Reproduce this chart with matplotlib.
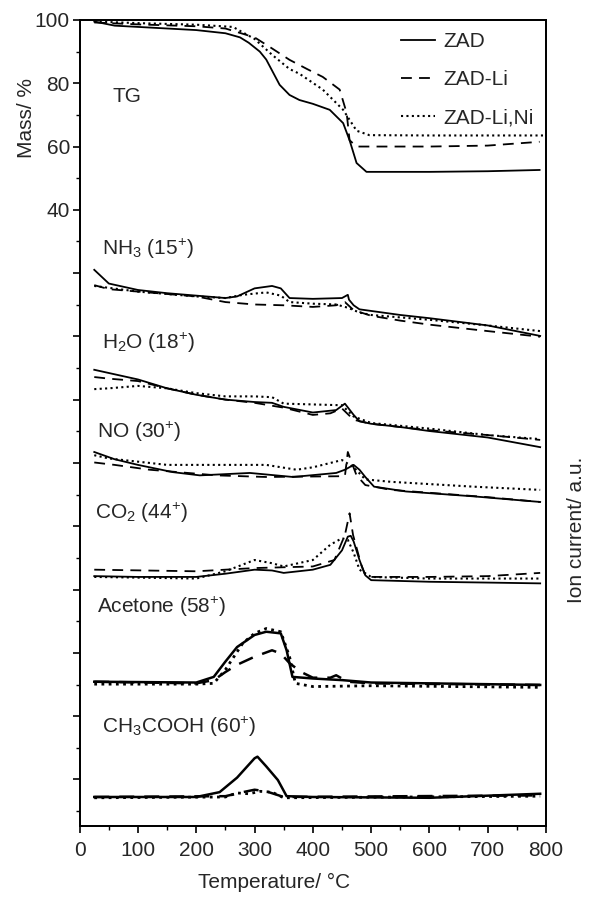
import numpy as np
import matplotlib
matplotlib.use('Agg')
import matplotlib.pyplot as plt
from matplotlib.ticker import MultipleLocator, FuncFormatter

plt.rcParams['font.family'] = ['Liberation Sans', 'DejaVu Sans']
plt.rcParams['mathtext.fontset'] = 'custom'
plt.rcParams['mathtext.rm'] = 'Liberation Sans'
plt.rcParams['mathtext.it'] = 'Liberation Sans:italic'
plt.rcParams['mathtext.bf'] = 'Liberation Sans:bold'

#TG data (mass %)
tg_zad_T = [25, 60, 120, 200, 250, 275, 290, 309, 320, 343, 360, 377, 400, 429, 452, 463, 475, 492, 600, 700, 789]
tg_zad_m = [99.5, 98.2, 97.6, 96.8, 95.8, 94.5, 92.8, 90.0, 87.5, 79.5, 76.3, 74.7, 73.5, 71.6, 67.4, 62.0, 54.8, 52.0, 52.0, 52.2, 52.6]
tg_li_T = [25, 100, 200, 250, 300, 330, 360, 390, 417, 446, 458, 463, 475, 600, 700, 789]
tg_li_m = [99.2, 98.6, 98.0, 97.3, 94.5, 91.0, 87.4, 84.5, 82.0, 78.0, 70.6, 62.0, 60.0, 60.0, 60.3, 61.5]
tg_lini_T = [25, 100, 200, 263, 300, 330, 360, 377, 417, 452, 475, 497, 600, 700, 800]
tg_lini_m = [99.5, 99.0, 98.5, 97.8, 94.0, 89.0, 84.5, 83.0, 78.0, 71.6, 65.0, 63.6, 63.5, 63.5, 63.5]

#ion current data (a.u., stacked traces)
nh3_zad_T = [25, 50, 100, 150, 200, 250, 270, 300, 330, 345, 360, 400, 450, 460, 462, 470, 480, 500, 550, 600, 700, 790]
nh3_zad = [69.0, 67.3, 66.5, 66.1, 65.8, 65.5, 65.7, 66.7, 67.0, 66.7, 65.5, 65.4, 65.5, 65.9, 65.3, 64.6, 64.1, 63.9, 63.4, 63.0, 62.1, 60.8]
nh3_li_T = [25, 50, 100, 150, 200, 250, 300, 350, 400, 440, 455, 470, 500, 550, 600, 700, 790]
nh3_li = [67.1, 66.6, 66.3, 66.0, 65.7, 65.0, 64.7, 64.6, 64.4, 64.6, 65.0, 64.0, 63.3, 62.7, 62.2, 61.4, 60.7]
nh3_lini_T = [25, 100, 200, 250, 280, 320, 345, 360, 400, 440, 460, 480, 500, 550, 600, 700, 790]
nh3_lini = [67.0, 66.3, 65.7, 65.5, 65.9, 66.2, 65.8, 65.0, 64.8, 64.7, 64.3, 63.7, 63.4, 63.1, 62.8, 62.1, 61.4]

h2o_zad_T = [25, 50, 100, 150, 200, 250, 300, 330, 350, 400, 440, 455, 470, 480, 500, 550, 600, 700, 790]
h2o_zad = [56.6, 56.2, 55.4, 54.3, 53.5, 52.9, 52.6, 52.5, 52.0, 51.3, 51.6, 52.4, 51.0, 50.2, 49.9, 49.5, 49.0, 48.2, 47.0]
h2o_li_T = [25, 50, 100, 150, 200, 250, 300, 350, 400, 430, 450, 470, 500, 600, 700, 790]
h2o_li = [55.7, 55.5, 55.2, 54.3, 53.5, 52.9, 52.5, 51.9, 51.0, 51.2, 51.8, 50.4, 49.9, 49.1, 48.5, 47.9]
h2o_lini_T = [25, 50, 100, 150, 200, 250, 300, 330, 350, 400, 450, 470, 500, 600, 700, 790]
h2o_lini = [54.2, 54.3, 54.6, 54.3, 53.7, 53.3, 53.3, 53.2, 52.4, 52.3, 52.2, 50.8, 50.0, 49.3, 48.5, 48.0]

no_zad_T = [25, 60, 100, 160, 206, 292, 366, 440, 455, 470, 480, 490, 505, 560, 675, 790]
no_zad = [46.4, 45.5, 44.8, 43.9, 43.5, 43.8, 43.3, 43.8, 44.2, 44.8, 44.2, 43.3, 42.1, 41.5, 40.9, 40.2]
no_li_T = [25, 60, 120, 235, 320, 455, 460, 465, 475, 490, 534, 700, 790]
no_li = [45.1, 44.8, 44.2, 43.5, 43.3, 43.4, 46.4, 45.4, 43.5, 42.3, 41.7, 40.8, 40.2]
no_lini_T = [25, 50, 150, 320, 372, 400, 450, 470, 490, 534, 675, 790]
no_lini = [46.0, 45.6, 44.8, 44.8, 44.2, 44.5, 45.4, 44.5, 43.0, 42.7, 42.1, 41.7]

co2_zad_T = [25, 100, 200, 250, 300, 330, 350, 400, 430, 450, 460, 465, 470, 480, 490, 500, 600, 700, 790]
co2_zad = [31.0, 30.9, 30.9, 31.3, 31.8, 31.7, 31.4, 31.8, 32.4, 34.2, 35.9, 36.0, 35.3, 33.0, 31.1, 30.5, 30.3, 30.2, 30.1]
co2_li_T = [25, 200, 300, 400, 437, 455, 463, 469, 483, 490, 500, 600, 700, 790]
co2_li = [31.8, 31.6, 32.0, 32.2, 33.0, 36.1, 38.8, 36.1, 32.4, 31.1, 30.9, 30.9, 31.0, 31.4]
co2_lini_T = [25, 200, 250, 300, 330, 350, 400, 430, 450, 460, 470, 480, 500, 600, 790]
co2_lini = [30.9, 30.7, 31.6, 33.0, 32.6, 32.2, 33.0, 34.9, 35.7, 35.5, 33.9, 31.8, 30.9, 30.7, 30.7]

ace_zad_T = [25, 200, 230, 250, 270, 300, 320, 345, 355, 365, 400, 450, 500, 790]
ace_zad = [17.9, 17.8, 18.5, 20.4, 22.2, 23.7, 24.1, 23.9, 21.8, 18.5, 18.3, 18.1, 17.8, 17.5]
ace_li_T = [25, 200, 230, 250, 270, 300, 330, 345, 360, 380, 400, 430, 440, 460, 500, 790]
ace_li = [17.9, 17.7, 18.1, 19.1, 20.0, 21.0, 21.8, 21.4, 20.2, 19.1, 18.4, 18.4, 18.7, 17.9, 17.7, 17.5]
ace_lini_T = [25, 200, 230, 250, 280, 300, 320, 345, 360, 370, 400, 500, 790]
ace_lini = [17.6, 17.6, 17.7, 19.4, 22.7, 23.9, 24.5, 24.1, 21.0, 17.7, 17.3, 17.4, 17.2]

acid_zad_T = [25, 200, 240, 270, 290, 300, 305, 320, 340, 355, 400, 600, 790]
acid_zad = [3.6, 3.6, 4.2, 6.0, 7.6, 8.4, 8.6, 7.4, 5.7, 3.7, 3.6, 3.5, 4.0]
acid_li_T = [25, 250, 280, 300, 320, 350, 790]
acid_li = [3.6, 3.7, 4.2, 4.5, 4.3, 3.6, 3.8]
acid_lini_T = [25, 250, 270, 290, 310, 330, 350, 790]
acid_lini = [3.5, 3.6, 4.1, 4.0, 4.3, 4.2, 3.5, 3.7]

samples = ['ZAD', 'ZAD-Li', 'ZAD-Li,Ni']
gas_labels = [r'NH$_3$ (15$^{+}$)', r'H$_2$O (18$^{+}$)', r'NO (30$^{+}$)',
              r'CO$_2$ (44$^{+}$)', r'Acetone (58$^{+}$)', r'CH$_3$COOH (60$^{+}$)']

txt = '#262626'
fs = 15
styles = [dict(ls='-', lw=1.3), dict(ls=(0, (6, 4)), lw=1.3), dict(ls=(0, (1, 1.6)), lw=1.5)]

fig = plt.figure(figsize=(5.89, 8.99), dpi=100)
ax = fig.add_axes([0.1353, 0.0812, 0.7917, 0.8966])
ax2 = ax.twinx()

# TG
for (T, m), st, lab in zip([(tg_zad_T, tg_zad_m), (tg_li_T, tg_li_m), (tg_lini_T, tg_lini_m)], styles, samples):
    ax.plot(T, m, color='k', label=lab, **st)

# MS traces
ion = [
    [(nh3_zad_T, nh3_zad), (nh3_li_T, nh3_li), (nh3_lini_T, nh3_lini)],
    [(h2o_zad_T, h2o_zad), (h2o_li_T, h2o_li), (h2o_lini_T, h2o_lini)],
    [(no_zad_T, no_zad), (no_li_T, no_li), (no_lini_T, no_lini)],
    [(co2_zad_T, co2_zad), (co2_li_T, co2_li), (co2_lini_T, co2_lini)],
    [(ace_zad_T, ace_zad), (ace_li_T, ace_li), (ace_lini_T, ace_lini)],
    [(acid_zad_T, acid_zad), (acid_li_T, acid_li), (acid_lini_T, acid_lini)],
]
for i, gas in enumerate(ion):
    for (T, s), st in zip(gas, styles):
        st = dict(st)
        if i >= 4:   # noisy traces look heavier
            st['lw'] = st['lw'] + 0.5
        ax2.plot(T, s, color='k', **st)

ax.set_xlim(0, 800)
ax.set_ylim(-154.7, 100)
ax2.set_ylim(0, 100)

ax.xaxis.set_major_locator(MultipleLocator(100))
ax.xaxis.set_minor_locator(MultipleLocator(50))
ax.yaxis.set_major_locator(MultipleLocator(20))
ax.yaxis.set_minor_locator(MultipleLocator(10))
ax.yaxis.set_major_formatter(FuncFormatter(lambda v, p: '%d' % v if v >= 40 else ''))
ax.tick_params(which='major', length=5, width=1.2, labelsize=fs, colors='k', labelcolor=txt)
ax.tick_params(which='minor', length=3, width=1.0)
ax.tick_params(axis='x', pad=6)
ax.tick_params(axis='y', pad=2)
ax2.set_yticks([])
for a in (ax, ax2):
    for s in a.spines.values():
        s.set_linewidth(1.3)

ax.set_xlabel('Temperature/ °C', fontsize=fs, color=txt)
ax.xaxis.set_label_coords(0.416, -0.058)
ax.set_ylabel('Mass/ %', fontsize=fs, color=txt)
ax.yaxis.set_label_coords(-0.094, 0.878)
ax2.set_ylabel('Ion current/ a.u.', fontsize=fs, color=txt)
ax2.yaxis.set_label_coords(1.046, 0.367)

ax.text(57, 75.7, 'TG', fontsize=fs, color=txt, va='center')
label_T = [38, 38, 30, 26, 30, 38]
label_y = [71.6, 59.9, 48.9, 38.8, 27.2, 12.3]
for t, y, lab in zip(label_T, label_y, gas_labels):
    ax2.text(t, y, lab, fontsize=fs, color=txt, va='center')

ax.legend(loc='upper left', bbox_to_anchor=(0.672, 0.995), frameon=False,
          fontsize=fs, handlelength=1.6, handletextpad=0.4, labelspacing=0.92,
          borderaxespad=0, labelcolor=txt)

fig.savefig('out.png', dpi=100)
